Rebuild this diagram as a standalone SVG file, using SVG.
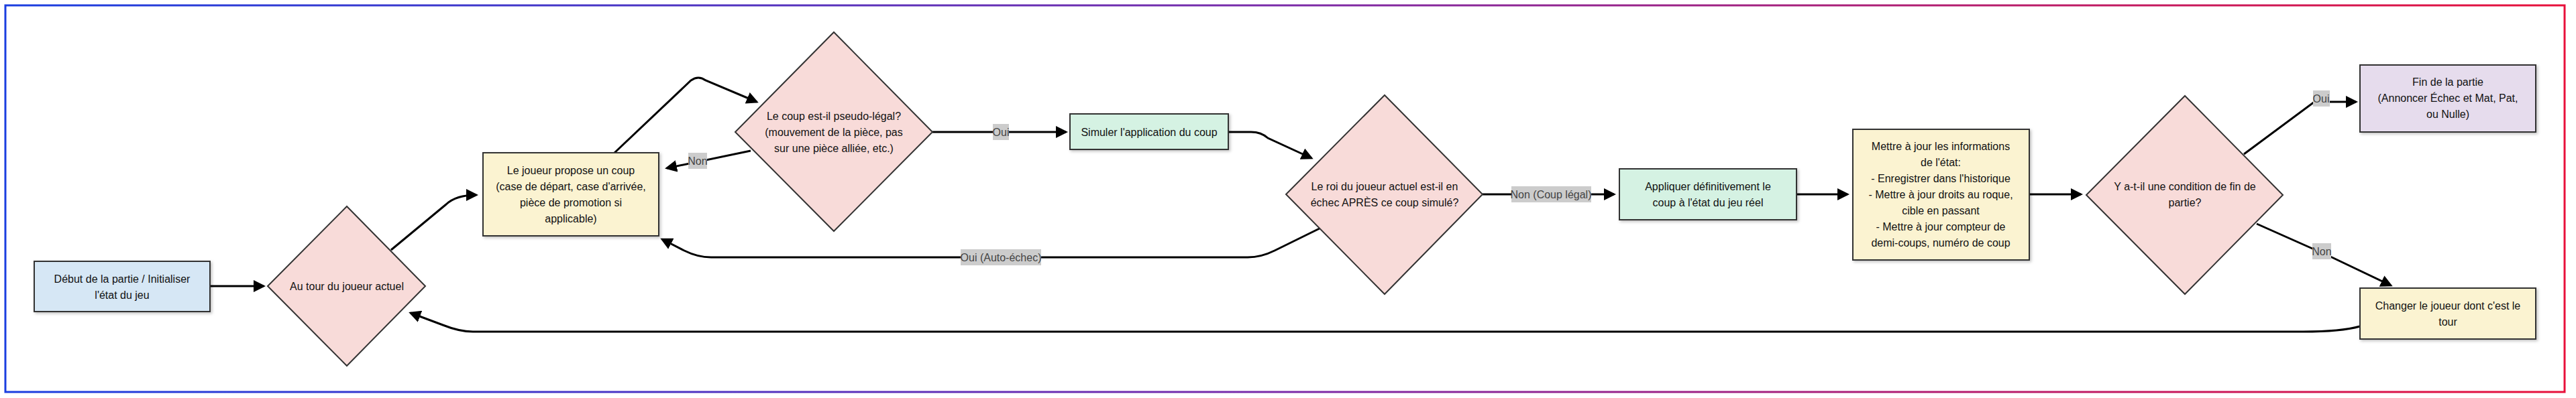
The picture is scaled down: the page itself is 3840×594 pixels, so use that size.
<svg xmlns="http://www.w3.org/2000/svg" width="3840" height="594" viewBox="0 0 3840 594">
<style>
text{font-family:"Liberation Sans",Arial,sans-serif;font-size:16px;fill:#111;text-anchor:middle}
.n{stroke:#333;stroke-width:2}
.r{filter:url(#sh)}
.c{fill:none;stroke:#000;stroke-width:3;marker-end:url(#a)}
.lb{fill:#ccc}
.lt{fill:#444}
</style>
<defs>
<linearGradient id="g" x1="0" x2="1" y1="0" y2="0"><stop offset="0" stop-color="#1a3ee0"/><stop offset="0.5" stop-color="#7a2aa8"/><stop offset="1" stop-color="#e8103a"/></linearGradient>
<marker id="a" markerWidth="6" markerHeight="6" refX="5" refY="3" orient="auto" markerUnits="strokeWidth"><path d="M0,0L6,3L0,6z" fill="#000"/></marker>
<filter id="sh" x="-10%" y="-10%" width="130%" height="130%"><feDropShadow dx="2" dy="2" stdDeviation="2" flood-opacity="0.25"/></filter>
</defs>
<rect x="0" y="0" width="3840" height="594" fill="#fff"/>
<rect x="8" y="8" width="3815" height="577" fill="none" stroke="url(#g)" stroke-width="3"/>
<g id="connectors">
<path class="c" d="M313,427H393"/>
<path class="c" d="M583,373L665,305Q680,291 710,291"/>
<path class="c" d="M916,228L1030,120Q1041,112 1052,120L1128,152"/>
<path class="c" d="M1119,225L994,251"/>
<path class="c" d="M1390,197H1589"/>
<path class="c" d="M1831,197H1865Q1880,197 1890,206L1955,236"/>
<path class="c" d="M1967,341L1900,374Q1880,384 1860,384H1060Q1040,384 1020,374L987,357"/>
<path class="c" d="M2210,290H2406"/>
<path class="c" d="M2678,290H2754"/>
<path class="c" d="M3025,290H3102"/>
<path class="c" d="M3345,230L3450,152H3512"/>
<path class="c" d="M3364,334L3474,383L3564,426"/>
<path class="c" d="M3518,487Q3490,495 3433,495H705Q685,495 660,485L612,467"/>
</g>
<g id="labels">
<rect class="lb" x="1026" y="228" width="28" height="24"/><text class="lt" x="1040" y="246">Non</text>
<rect class="lb" x="1480" y="185" width="24" height="24"/><text class="lt" x="1492" y="203">Oui</text>
<rect class="lb" x="1432" y="372" width="120" height="24"/><text class="lt" x="1492" y="390">Oui (Auto-échec)</text>
<rect class="lb" x="2253" y="278" width="119" height="24"/><text class="lt" x="2312" y="296">Non (Coup légal)</text>
<rect class="lb" x="3448" y="135" width="25" height="24"/><text class="lt" x="3460" y="153">Oui</text>
<rect class="lb" x="3447" y="363" width="28" height="24"/><text class="lt" x="3461" y="381">Non</text>
</g>
<g id="start"><rect class="n r" x="51" y="390" width="262" height="75" fill="#d6e7f5"/><text x="182" y="422">Début de la partie / Initialiser</text><text x="182" y="446">l'état du jeu</text></g>
<g id="tour"><polygon class="n" points="517,308 634,427 517,546 399,427" fill="#f8dbd9"/><text x="517" y="433">Au tour du joueur actuel</text></g>
<g id="propose"><rect class="n r" x="720" y="228" width="262" height="124" fill="#fbf3d1"/><text x="851" y="260">Le joueur propose un coup</text><text x="851" y="284">(case de départ, case d'arrivée,</text><text x="851" y="308">pièce de promotion si</text><text x="851" y="332">applicable)</text></g>
<g id="pseudo"><polygon class="n" points="1243,48 1390,197 1243,345 1096,197" fill="#f8dbd9"/><text x="1243" y="179">Le coup est-il pseudo-légal?</text><text x="1243" y="203">(mouvement de la pièce, pas</text><text x="1243" y="227">sur une pièce alliée, etc.)</text></g>
<g id="simuler"><rect class="n r" x="1595" y="170" width="236" height="53" fill="#d5f2e3"/><text x="1713" y="203">Simuler l'application du coup</text></g>
<g id="roi"><polygon class="n" points="2064,142 2210,290 2064,439 1917,290" fill="#f8dbd9"/><text x="2064" y="284">Le roi du joueur actuel est-il en</text><text x="2064" y="308">échec APRÈS ce coup simulé?</text></g>
<g id="appliquer"><rect class="n r" x="2414" y="252" width="264" height="76" fill="#d5f2e3"/><text x="2546" y="284">Appliquer définitivement le</text><text x="2546" y="308">coup à l'état du jeu réel</text></g>
<g id="maj"><rect class="n r" x="2762" y="193" width="263" height="195" fill="#fbf3d1"/><text x="2893" y="224">Mettre à jour les informations</text><text x="2893" y="248">de l'état:</text><text x="2893" y="272">- Enregistrer dans l'historique</text><text x="2893" y="296">- Mettre à jour droits au roque,</text><text x="2893" y="320">cible en passant</text><text x="2893" y="344">- Mettre à jour compteur de</text><text x="2893" y="368">demi-coups, numéro de coup</text></g>
<g id="fincond"><polygon class="n" points="3257,143 3403,291 3257,439 3110,291" fill="#f8dbd9"/><text x="3257" y="284">Y a-t-il une condition de fin de</text><text x="3257" y="308">partie?</text></g>
<g id="fin"><rect class="n r" x="3518" y="97" width="262" height="100" fill="#e6dced"/><text x="3649" y="128">Fin de la partie</text><text x="3649" y="152">(Annoncer Échec et Mat, Pat,</text><text x="3649" y="176">ou Nulle)</text></g>
<g id="changer"><rect class="n r" x="3518" y="430" width="262" height="76" fill="#fbf3d1"/><text x="3649" y="462">Changer le joueur dont c'est le</text><text x="3649" y="486">tour</text></g>
</svg>
